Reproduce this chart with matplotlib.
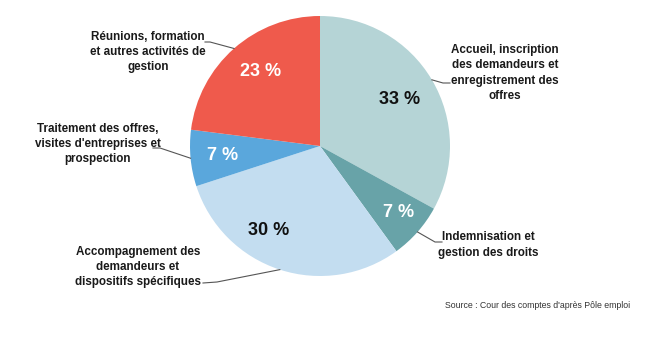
import numpy as np
import matplotlib
matplotlib.use("Agg")
import matplotlib.pyplot as plt

plt.rcParams['font.family'] = ['Liberation Sans', 'DejaVu Sans']

categories = [
    "Accueil, inscription\ndes demandeurs et\nenregistrement des\noffres",
    "Indemnisation et\ngestion des droits",
    "Accompagnement des\ndemandeurs et\ndispositifs spécifiques",
    "Traitement des offres,\nvisites d'entreprises et\nprospection",
    "Réunions, formation\net autres activités de\ngestion",
]
values = [33, 7, 30, 7, 23]
pct_labels = ["33 %", "7 %", "30 %", "7 %", "23 %"]

colors = ["#B5D4D6", "#68A3A8", "#C3DDF0", "#5AA7DC", "#EF5A4C"]
pct_colors = ["#111111", "white", "#111111", "white", "white"]
pct_dist = [0.71, 0.79, 0.76, 0.75, 0.73]
pct_angle_shift = [0, 1, -13, 0, -3]

W, H = 650, 339
fig = plt.figure(figsize=(W / 100, H / 100), dpi=100)
ax = fig.add_axes([0, 0, 1, 1])
cx, cy, R = 320, H - 146, 130

wedges, _ = ax.pie(values, colors=colors, startangle=90, counterclock=False,
                   radius=R, center=(cx, cy), frame=True,
                   wedgeprops=dict(linewidth=0))
ax.set_xlim(0, W)
ax.set_ylim(0, H)
ax.set_aspect('auto')
ax.axis('off')

for i, w in enumerate(wedges):
    mid = np.deg2rad((w.theta1 + w.theta2) / 2 + pct_angle_shift[i])
    d = pct_dist[i] * R
    ax.text(cx + d * np.cos(mid), cy + d * np.sin(mid), pct_labels[i],
            ha='center', va='center', fontsize=13, fontweight='bold',
            color=pct_colors[i])

# outer label layout (pixel positions, y down)
label_pos = [(505, 73), (488, 245), (138, 267), (98, 144), (148, 52)]
leader_pts = [
    [(443, 83), (450, 83)],
    [(435, 242), (442, 242)],
    [(217, 282), (203, 283)],
    [(160, 148), (153, 148)],
    [(210, 42), (205, 42)],
]
for i, w in enumerate(wedges):
    tx, ty = label_pos[i]
    ax.text(tx, H - ty, categories[i], ha='center', va='center', fontsize=8.4,
            fontweight='bold', color="#1a1a1a", linespacing=1.38)
    mid = np.deg2rad((w.theta1 + w.theta2) / 2)
    ex, ey = cx + R * np.cos(mid), cy + R * np.sin(mid)
    xs = [ex] + [p[0] for p in leader_pts[i]]
    ys = [ey] + [H - p[1] for p in leader_pts[i]]
    ax.plot(xs, ys, color="#555555", lw=0.8)

ax.text(630, H - 306, "Source : Cour des comptes d'après Pôle emploi",
        ha='right', va='center', fontsize=6.3, color="#333333")

fig.savefig("out.png", dpi=100, facecolor="white")
